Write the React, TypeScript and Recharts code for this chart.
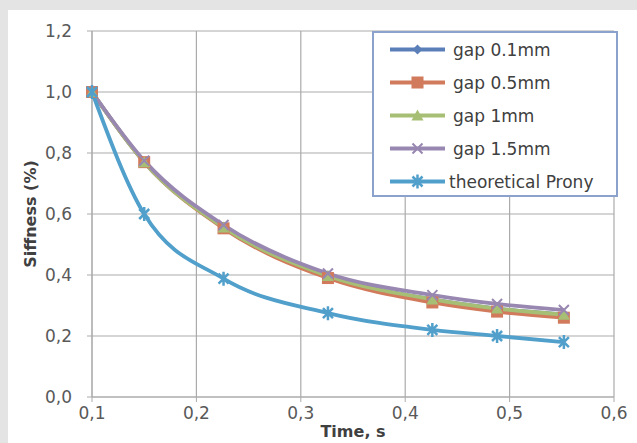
import { LineChart, Line, XAxis, YAxis, CartesianGrid, Legend } from 'recharts'

// time (s) and stiffness values
const times = [0.1, 0.15, 0.226, 0.326, 0.426, 0.488, 0.552]
const gap01 = [1.0, 0.77, 0.558, 0.398, 0.32, 0.29, 0.27]
const gap05 = [1.0, 0.77, 0.553, 0.39, 0.31, 0.28, 0.26]
const gap1 = [1.0, 0.77, 0.556, 0.397, 0.32, 0.29, 0.27]
const gap15 = [1.0, 0.775, 0.564, 0.405, 0.334, 0.305, 0.285]
const prony = [1.0, 0.6, 0.388, 0.275, 0.22, 0.2, 0.18]

const xTicks = [0.1, 0.2, 0.3, 0.4, 0.5, 0.6]
const yTicks = [0, 0.2, 0.4, 0.6, 0.8, 1.0, 1.2]

type Kind = 'diamond' | 'square' | 'triangle' | 'cross' | 'star'

const series: { key: string; name: string; color: string; kind: Kind }[] = [
  { key: 'g01', name: 'gap 0.1mm', color: '#5a7fb8', kind: 'diamond' },
  { key: 'g05', name: 'gap 0.5mm', color: '#d27a5c', kind: 'square' },
  { key: 'g1', name: 'gap 1mm', color: '#a6bf75', kind: 'triangle' },
  { key: 'g15', name: 'gap 1.5mm', color: '#9887b0', kind: 'cross' },
  { key: 'prony', name: 'theoretical Prony', color: '#519fcb', kind: 'star' },
]

const data = times.map((t, i) => ({
  t,
  g01: gap01[i],
  g05: gap05[i],
  g1: gap1[i],
  g15: gap15[i],
  prony: prony[i],
}))

const FONT = '"DejaVu Sans", sans-serif'
const comma = (v: number) => v.toFixed(1).replace('.', ',')

function Marker({ cx, cy, kind, color }: { cx: number; cy: number; kind: Kind; color: string }) {
  if (kind === 'diamond')
    return <path d={`M${cx} ${cy - 5}L${cx + 5} ${cy}L${cx} ${cy + 5}L${cx - 5} ${cy}Z`} fill={color} />
  if (kind === 'square') return <rect x={cx - 6} y={cy - 6} width={12} height={12} fill={color} />
  if (kind === 'triangle')
    return <path d={`M${cx} ${cy - 6}L${cx + 6} ${cy + 5}L${cx - 6} ${cy + 5}Z`} fill={color} />
  if (kind === 'cross')
    return (
      <path
        d={`M${cx - 5} ${cy - 5}L${cx + 5} ${cy + 5}M${cx - 5} ${cy + 5}L${cx + 5} ${cy - 5}`}
        stroke={color}
        strokeWidth={2}
      />
    )
  return (
    <path
      d={`M${cx - 5} ${cy - 5}L${cx + 5} ${cy + 5}M${cx - 5} ${cy + 5}L${cx + 5} ${cy - 5}M${cx} ${cy - 7}L${cx} ${cy + 7}`}
      stroke={color}
      strokeWidth={2.5}
    />
  )
}

function LegendBox() {
  return (
    <div
      style={{
        boxSizing: 'border-box',
        width: 246,
        height: 166,
        border: '2px solid #8aa2cc',
        background: '#fff',
        fontFamily: FONT,
        fontSize: 17,
        color: '#404040',
      }}
    >
      {series.map((s) => (
        <div key={s.key} style={{ position: 'relative', height: 33, display: 'flex', alignItems: 'center' }}>
          <svg width={76} height={33} style={{ display: 'block' }}>
            <line x1={16} y1={16.5} x2={71} y2={16.5} stroke={s.color} strokeWidth={4} />
            <Marker cx={43.5} cy={16.5} kind={s.kind} color={s.color} />
          </svg>
          <span style={{ marginLeft: s.kind === 'star' ? -1 : 3, whiteSpace: 'nowrap' }}>{s.name}</span>
        </div>
      ))}
    </div>
  )
}

export default function App() {
  return (
    <div style={{ position: 'fixed', left: 0, top: 0, width: 637, height: 443, background: '#e4e4e4', overflow: 'hidden' }}>
      <div style={{ position: 'absolute', left: 8, top: 10, width: 629, height: 433, background: '#fff' }}>
        <LineChart width={629} height={433} data={data} margin={{ top: 21, right: 23, bottom: 0, left: 0 }}>
          <CartesianGrid stroke="#ababab" strokeWidth={1.2} />
          <XAxis
            dataKey="t"
            type="number"
            domain={[0.1, 0.6]}
            ticks={xTicks}
            tickFormatter={comma}
            height={46}
            stroke="#ababab"
            tickSize={5}
            tickMargin={5}
            tick={{ fill: '#595959', fontSize: 17, fontFamily: FONT }}
            label={{
              content: ({ viewBox }: any) => (
                <text
                  x={viewBox.x + viewBox.width / 2}
                  y={viewBox.y + 40}
                  textAnchor="middle"
                  fontFamily={FONT}
                  fontWeight="bold"
                  fontSize={16}
                  fill="#404040"
                >
                  Time, s
                </text>
              ),
            }}
          />
          <YAxis
            type="number"
            domain={[0, 1.2]}
            ticks={yTicks}
            tickFormatter={comma}
            width={84}
            stroke="#ababab"
            tickSize={5}
            tickMargin={15}
            tick={{ fill: '#595959', fontSize: 17, fontFamily: FONT }}
            label={{
              content: ({ viewBox }: any) => {
                const x = viewBox.x + 22
                const y = viewBox.y + viewBox.height / 2
                return (
                  <text
                    x={x}
                    y={y}
                    transform={`rotate(-90 ${x} ${y})`}
                    textAnchor="middle"
                    dominantBaseline="central"
                    fontFamily={FONT}
                    fontWeight="bold"
                    fontSize={16}
                    fill="#404040"
                  >
                    Siffness (%)
                  </text>
                )
              },
            }}
          />
          <Legend
            layout="vertical"
            align="center"
            verticalAlign="middle"
            content={() => <LegendBox />}
            wrapperStyle={{ position: 'absolute', left: 364, top: 21, width: 246, height: 166 }}
          />
          {series.map((s) => (
            <Line
              key={s.key}
              type="monotone"
              dataKey={s.key}
              name={s.name}
              stroke={s.color}
              strokeWidth={3.8}
              isAnimationActive={false}
              dot={(p: any) => (
                <Marker key={`${s.key}-${p.index}`} cx={p.cx} cy={p.cy} kind={s.kind} color={s.color} />
              )}
              activeDot={false}
            />
          ))}
        </LineChart>
      </div>
    </div>
  )
}
